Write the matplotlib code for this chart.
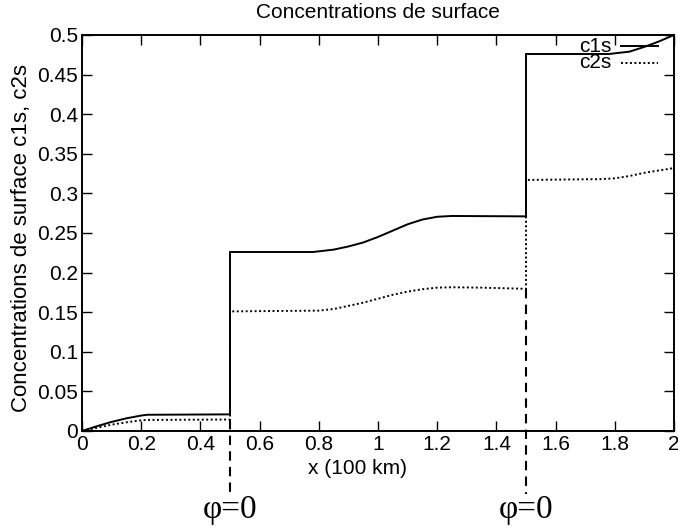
#!/usr/bin/env python3
"""Surface concentrations c1s, c2s along x, with the two phi=0 interfaces marked."""
import numpy as np
import matplotlib
matplotlib.use("Agg")
import matplotlib.pyplot as plt
import matplotlib.transforms as mtransforms

# c1s profile (x in units of 100 km)
c1s_x = [0.0, 0.05, 0.10, 0.15, 0.20, 0.22, 0.50,
         0.50, 0.78, 0.85, 0.90, 0.95, 1.00, 1.05, 1.10, 1.15, 1.20, 1.25, 1.50,
         1.50, 1.78, 1.85, 1.90, 1.95, 2.00]
c1s_y = [0.0, 0.006, 0.0115, 0.016, 0.0195, 0.0205, 0.021,
         0.226, 0.226, 0.229, 0.233, 0.238, 0.245, 0.253, 0.261, 0.267, 0.2705, 0.2715, 0.271,
         0.476, 0.476, 0.479, 0.485, 0.492, 0.500]

# c2s profile
c2s_x = [0.0, 0.05, 0.10, 0.15, 0.20, 0.22, 0.50,
         0.50, 0.80, 0.85, 0.90, 0.95, 1.00, 1.05, 1.10, 1.15, 1.20, 1.25, 1.35, 1.50,
         1.50, 1.75, 1.80, 1.85, 1.90, 1.95, 2.00]
c2s_y = [0.0, 0.004, 0.008, 0.011, 0.0135, 0.014, 0.0145,
         0.151, 0.152, 0.154, 0.158, 0.162, 0.167, 0.172, 0.176, 0.179, 0.181, 0.1815, 0.181, 0.1795,
         0.317, 0.318, 0.319, 0.322, 0.326, 0.329, 0.332]

# interfaces where phi = 0
phi_zero_x = [0.5, 1.5]

xticks = [0, 0.2, 0.4, 0.6, 0.8, 1, 1.2, 1.4, 1.6, 1.8, 2]
xtick_labels = ["0", "0.2", "0.4", "0.6", "0.8", "1", "1.2", "1.4", "1.6", "1.8", "2"]
yticks = [0, 0.05, 0.1, 0.15, 0.2, 0.25, 0.3, 0.35, 0.4, 0.45, 0.5]
ytick_labels = ["0", "0.05", "0.1", "0.15", "0.2", "0.25", "0.3", "0.35", "0.4", "0.45", "0.5"]

plt.rcParams['font.family'] = ['Liberation Sans', 'DejaVu Sans']

fig = plt.figure(figsize=(6.78, 5.28), dpi=100)
ax = fig.add_axes([82 / 678, 97 / 528, 592 / 678, 396 / 528])

dotted = (0, (1.0, 1.3))
ax.plot(c1s_x, c1s_y, color='black', lw=1.4, solid_joinstyle='miter')
ax.plot(c2s_x, c2s_y, color='black', lw=1.4, linestyle=dotted)

ax.set_xlim(0, 2)
ax.set_ylim(0, 0.5)
ax.set_xticks(xticks)
ax.set_xticklabels(xtick_labels)
ax.set_yticks(yticks)
ax.set_yticklabels(ytick_labels)
ax.tick_params(direction='in', length=7, width=1.0, top=True, right=True,
               labelsize=15, pad=3)
for sp in ax.spines.values():
    sp.set_linewidth(1.4)

fig.text(0.558, 0.977, "Concentrations de surface", ha='center', va='center',
         fontsize=15)
ax.set_xlabel("x (100 km)", fontsize=15)
ax.xaxis.set_label_coords(0.466, -0.07)
ax.set_ylabel("Concentrations de surface c1s, c2s", fontsize=16)
ax.yaxis.set_label_coords(-0.085, 0.487)

# legend, gnuplot style: label then line sample
leg_rows = [("c1s", '-'), ("c2s", dotted)]
for i, (name, ls) in enumerate(leg_rows):
    yy = 0.972 - i * 0.042
    ax.text(0.895, yy, name, transform=ax.transAxes, ha='right', va='center',
            fontsize=15)
    ax.plot([0.911, 0.973], [yy, yy], transform=ax.transAxes, color='black',
            lw=1.4, linestyle=ls)

# dashed markers at the interfaces, running below the axis to the phi=0 labels
trans = mtransforms.blended_transform_factory(ax.transData, ax.transAxes)
for xp in phi_zero_x:
    y_low = min(y for x, y in zip(c2s_x, c2s_y) if x == xp)
    top = y_low / 0.5
    ax.plot([xp, xp], [top, -0.16], transform=trans, color='black', lw=1.5,
            linestyle=(0, (4.5, 3.0)), clip_on=False)
    ax.text(xp, -0.2, "φ=0", transform=trans, ha='center', va='center',
            fontsize=24, family=['Liberation Serif', 'DejaVu Serif'])

fig.savefig("out.png", dpi=100)
